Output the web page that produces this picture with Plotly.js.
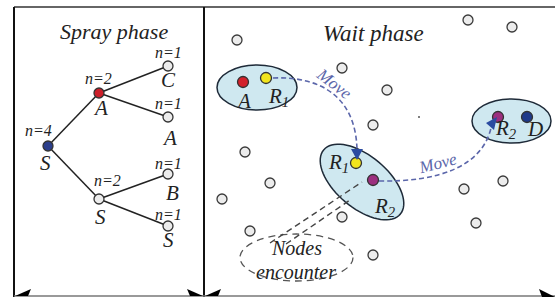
<!DOCTYPE html>
<html><head><meta charset="utf-8">
<script src="https://cdn.plot.ly/plotly-3.0.1.min.js"></script>
<style>html,body{margin:0;padding:0;background:#fff}</style>
</head><body><div id="chart" style="width:555px;height:297px"></div>
<script>
// ---------- DATA ----------
// Spray phase tree
const treeNodeX = [48, 99, 168, 168, 99, 168, 168];
const treeNodeY = [146, 93, 66, 117, 199, 174, 226];
const treeNodeName = ['S', 'A', 'C', 'A', 'S', 'B', 'S'];
const treeNodeCopies = [4, 2, 1, 1, 2, 1, 1];
const treeEdges = [[0, 1], [1, 2], [1, 3], [0, 4], [4, 5], [4, 6]];
const treeNodeKind = ['src', 'relay', 'plain', 'plain', 'plain', 'plain', 'plain'];

// Wait phase: idle nodes
const idleNodeX = [237, 342, 468, 512, 387, 373, 245, 270, 222, 342, 250, 373, 464, 503, 476];
const idleNodeY = [40, 68, 20, 27, 90, 125, 152, 183, 199, 217, 231, 255, 189, 181, 223];

// Wait phase: named nodes
const waitNodeName = ['A', 'R<sub>1</sub>', 'R<sub>1</sub>', 'R<sub>2</sub>', 'R<sub>2</sub>', 'D'];
const waitNodeX = [243, 266, 356, 373, 498, 527];
const waitNodeY = [82, 78, 163, 180, 117, 117];
const waitNodeKind = ['red', 'yellow', 'yellow', 'purple', 'purple', 'navy'];
const waitLabelX = [243, 278, 338, 385, 506, 535];
const waitLabelY = [101, 97, 163, 207, 129, 129];

// ---------- STYLE ----------
const kindColor = {
  src: '#2c3f8c', relay: '#cc1f2a', plain: '#ececec',
  red: '#d3212b', yellow: '#f2e51c', purple: '#9c2f7f', navy: '#1f3a8a'
};
const serif = "'Liberation Serif', 'Times New Roman', serif";
const moveColor = '#5b66aa';

const traces = [];
treeEdges.forEach(([a, b]) => {
  traces.push({type: 'scatter', mode: 'lines', x: [treeNodeX[a], treeNodeX[b]], y: [treeNodeY[a], treeNodeY[b]],
    line: {color: '#222', width: 1.5}, hoverinfo: 'skip', showlegend: false});
});
traces.push({type: 'scatter', mode: 'markers', x: treeNodeX, y: treeNodeY,
  marker: {size: 10, color: treeNodeKind.map(k => kindColor[k]), line: {color: '#333', width: 1.3}},
  hoverinfo: 'skip', showlegend: false});
traces.push({type: 'scatter', mode: 'markers', x: idleNodeX, y: idleNodeY,
  marker: {size: 10, color: '#ececec', line: {color: '#3a3a3a', width: 1.3}}, hoverinfo: 'skip', showlegend: false});
traces.push({type: 'scatter', mode: 'markers', x: [419], y: [117],
  marker: {size: 2, color: '#555'}, hoverinfo: 'skip', showlegend: false});
traces.push({type: 'scatter', mode: 'markers', x: waitNodeX, y: waitNodeY,
  marker: {size: 11, color: waitNodeKind.map(k => kindColor[k]), line: {color: '#333', width: 1.3}},
  hoverinfo: 'skip', showlegend: false});

// ---------- SHAPES ----------
function rotEllipse(cx, cy, a, b, deg) {
  const t = deg * Math.PI / 180; let p = '';
  for (let i = 0; i <= 72; i++) {
    const u = i / 72 * 2 * Math.PI;
    const x = cx + a * Math.cos(u) * Math.cos(t) - b * Math.sin(u) * Math.sin(t);
    const y = cy + a * Math.cos(u) * Math.sin(t) + b * Math.sin(u) * Math.cos(t);
    p += (i ? ' L ' : 'M ') + x.toFixed(2) + ' ' + y.toFixed(2);
  }
  return p + ' Z';
}
const ellFill = '#cfe8f0', ellLine = '#1e2a38';
const shapes = [
  {type: 'line', x0: 14, x1: 555, y0: 7, y1: 7, line: {color: '#333', width: 1.5}},
  {type: 'line', x0: 14, x1: 14, y0: 7, y1: 297, line: {color: '#111', width: 2}},
  {type: 'line', x0: 204, x1: 204, y0: 7, y1: 297, line: {color: '#111', width: 2}},
  {type: 'line', x0: 14, x1: 555, y0: 296, y1: 296, line: {color: '#777', width: 1.5}},
  {type: 'path', path: 'M 15 296 L 31 289 L 28 296 Z', fillcolor: '#000', line: {width: 0}},
  {type: 'path', path: 'M 203 296 L 187 289 L 190 296 Z', fillcolor: '#000', line: {width: 0}},
  {type: 'path', path: 'M 205 296 L 221 289 L 218 296 Z', fillcolor: '#000', line: {width: 0}},
  {type: 'path', path: 'M 555 297 L 539 289 L 542 297 Z', fillcolor: '#000', line: {width: 0}},
  {type: 'circle', layer: 'below', x0: 217, x1: 297, y0: 65, y1: 110, fillcolor: ellFill, line: {color: ellLine, width: 1.5}},
  {type: 'path', layer: 'below', path: rotEllipse(362, 182, 50, 26, 40), fillcolor: ellFill, line: {color: ellLine, width: 1.5}},
  {type: 'circle', layer: 'below', x0: 472, x1: 551, y0: 99, y1: 143, fillcolor: ellFill, line: {color: ellLine, width: 1.5}},
  {type: 'circle', layer: 'below', x0: 240, x1: 353, y0: 234, y1: 281, line: {color: '#555', width: 1.3, dash: '7px,5px'}},
  {type: 'line', x0: 270, y0: 243, x1: 362, y1: 182, line: {color: '#444', width: 1.4, dash: '6px,4px'}},
  {type: 'line', x0: 286, y0: 244, x1: 350, y1: 200, line: {color: '#444', width: 1.4, dash: '6px,4px'}},
  {type: 'path', path: 'M 273 78 C 322 76, 356 98, 357 150', line: {color: moveColor, width: 1.6, dash: '5px,3px'}},
  {type: 'path', path: 'M 379 181 C 440 182, 482 166, 491 128', line: {color: moveColor, width: 1.6, dash: '5px,3px'}},
  {type: 'path', path: 'M 351 149 L 363 149 L 357 160 Z', fillcolor: '#2b4ba0', line: {width: 0}},
  {type: 'path', path: 'M 497 117 L 486 123 L 494 130 Z', fillcolor: '#2b4ba0', line: {width: 0}}
];

// ---------- TEXT ----------
const ann = [];
function txt(x, y, text, size, color, angle) {
  ann.push({x, y, xref: 'x', yref: 'y', text, showarrow: false, xanchor: 'center', yanchor: 'middle',
    textangle: angle || 0, font: {family: serif, size, color: color || '#222', style: 'italic'}});
}
txt(114, 31, 'Spray phase', 22);
txt(373, 33, 'Wait phase', 23);
const nameDX = [-3, 1, 0, 1, 1, 4, 0], nameDY = [17, 15, 14, 21, 18, 19, 14];
const copyDX = [-10, -1, 0, 0, 8, 0, 0], copyDY = [-16, -15, -14, -14, -19, -11, -12];
treeNodeX.forEach((x, i) => {
  txt(x + nameDX[i], treeNodeY[i] + nameDY[i], treeNodeName[i], 21);
  txt(x + copyDX[i], treeNodeY[i] + copyDY[i], 'n=' + treeNodeCopies[i], 16);
});
waitNodeName.forEach((n, i) => txt(waitLabelX[i], waitLabelY[i], n, 21));
txt(334, 83, 'Move', 17, moveColor, 38);
txt(437, 163, 'Move', 17, moveColor, -14);
txt(296, 248, 'Nodes', 20);
txt(296, 272, 'encounter', 20);

const layout = {
  width: 555, height: 297, margin: {l: 0, r: 0, t: 0, b: 0},
  paper_bgcolor: '#fff', plot_bgcolor: '#fff',
  xaxis: {range: [0, 555], visible: false, fixedrange: true},
  yaxis: {range: [297, 0], visible: false, fixedrange: true},
  shapes, annotations: ann, showlegend: false
};
Plotly.newPlot('chart', traces, layout, {staticPlot: true, displayModeBar: false});
</script></body></html>
